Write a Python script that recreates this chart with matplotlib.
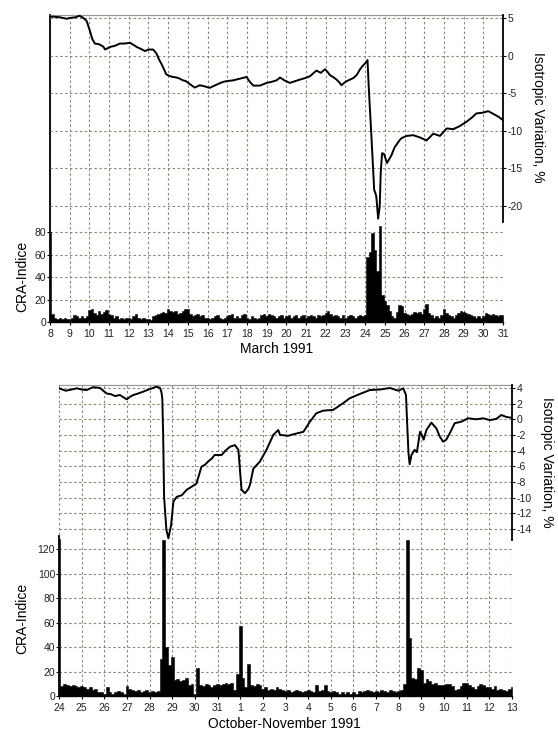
import numpy as np
import matplotlib
matplotlib.use('Agg')
import matplotlib.pyplot as plt

plt.rcParams['font.family'] = ['Liberation Sans', 'DejaVu Sans']
plt.rcParams['axes.unicode_minus'] = False

# ---------------- March 1991 ----------------
mar_day_labels = list(range(8, 32))
# CRA index, 3-hourly from 8 March 00h
mar_cra = [
    80, 7, 4, 3, 4, 3, 4, 3,        # 8
    3, 4, 6, 5, 4, 5, 4, 5,         # 9
    11, 12, 8, 6, 10, 7, 9, 11,     # 10
    7, 6, 4, 5, 3, 4, 3, 4,         # 11
    4, 3, 5, 7, 4, 3, 4, 3,         # 12
    3, 2, 5, 6, 7, 8, 9, 8,         # 13
    12, 10, 9, 10, 7, 8, 10, 12,    # 14
    12, 7, 5, 6, 7, 5, 6, 4,        # 15
    4, 3, 4, 5, 6, 4, 3, 4,         # 16
    5, 6, 7, 4, 5, 4, 6, 7,         # 17
    4, 3, 5, 4, 3, 4, 6, 7,         # 18
    5, 7, 6, 5, 4, 5, 6, 4,         # 19
    5, 6, 4, 5, 6, 4, 5, 6,         # 20
    4, 5, 6, 5, 4, 6, 5, 6,         # 21
    8, 10, 7, 5, 6, 5, 4, 6,        # 22
    4, 5, 6, 5, 4, 5, 6, 5,         # 23
    6, 58, 62, 79, 64, 45, 85, 24,  # 24
    19, 15, 10, 5, 4, 9, 15, 14,    # 25
    8, 7, 6, 7, 9, 8, 9, 7,         # 26
    12, 16, 8, 6, 4, 5, 4, 6,       # 27
    12, 8, 6, 5, 4, 6, 8, 10,       # 28
    9, 8, 7, 6, 5, 4, 5, 4,         # 29
    5, 8, 7, 6, 7, 6, 5, 6,         # 30
    6,                              # 31
]
mar_iso_day = [
    8.0, 8.5, 8.85, 9.0, 9.3, 9.5, 9.7, 9.86, 10.0, 10.15, 10.28, 10.5, 10.7, 10.8,
    11.05, 11.3, 11.55, 11.8, 12.06, 12.25, 12.4, 12.6, 12.82, 13.0, 13.24, 13.4,
    13.55, 13.65, 13.8, 13.9, 14.05, 14.24, 14.4, 14.58, 14.75, 14.9, 15.1, 15.35,
    15.6, 15.85, 16.1, 16.35, 16.6, 16.8, 16.97, 17.3, 17.6, 17.98, 18.15, 18.32,
    18.66, 19.0, 19.25, 19.5, 19.68, 19.9, 20.18, 20.45, 20.69, 20.95, 21.2, 21.35,
    21.53, 21.75, 21.96, 22.1, 22.21, 22.4, 22.55, 22.7, 22.8, 23.0, 23.23, 23.4,
    23.57, 23.75, 23.9, 24.05, 24.12, 24.2, 24.32, 24.46, 24.52, 24.57, 24.66,
    24.74, 24.79, 24.86, 24.96, 25.11, 25.33, 25.5, 25.77, 25.85, 26.1, 26.44,
    26.78, 27.12, 27.46, 27.8, 28.14, 28.47, 28.8, 29.15, 29.4, 29.65, 29.99,
    30.25, 30.6, 30.8, 31.0,
]
mar_iso = [
    5.2, 5.1, 4.9, 5.0, 5.1, 5.3, 5.0, 4.6, 3.5, 2.2, 1.6, 1.5, 1.2, 0.8,
    1.15, 1.3, 1.6, 1.6, 1.7, 1.4, 1.15, 0.9, 0.6, 0.8, 0.8, 0.3,
    -0.6, -1.06, -1.9, -2.5, -2.7, -2.85, -2.9, -3.06, -3.3, -3.4, -3.8, -4.26,
    -3.95, -4.1, -4.3, -4.0, -3.7, -3.5, -3.4, -3.3, -3.1, -2.85, -3.5, -4.0,
    -4.0, -3.64, -3.5, -3.3, -2.93, -3.3, -3.64, -3.4, -3.2, -3.0, -2.75, -2.4,
    -2.0, -2.3, -1.82, -2.2, -2.6, -2.9, -3.2, -3.6, -3.95, -3.5, -3.2, -3.0,
    -2.6, -1.8, -1.3, -0.9, -0.6, -5.05, -10.8, -17.9, -18.3, -18.8, -21.7,
    -20.1, -15.7, -13.0, -13.1, -14.3, -13.3, -12.2, -11.2, -11.0, -10.7, -10.6,
    -10.9, -11.3, -10.4, -10.7, -9.7, -9.8, -9.4, -8.8, -8.3, -7.7, -7.6,
    -7.4, -7.9, -8.2, -8.6,
]

# ---------------- October-November 1991 ----------------
on_day_labels = [24, 25, 26, 27, 28, 29, 30, 31, 1, 2, 3, 4, 5, 6, 7, 8, 9, 10, 11, 12, 13]
# CRA index, 3-hourly from 24 October 00h
on_cra = [
    128, 8, 10, 9, 8, 9, 8, 7,      # Oct 24
    8, 7, 6, 7, 5, 6, 3, 3,         # 25
    2, 7, 3, 2, 3, 4, 3, 2,         # 26
    8, 6, 5, 4, 5, 3, 4, 5,         # 27
    3, 4, 3, 4, 30, 127, 40, 25,    # 28
    32, 13, 14, 12, 13, 15, 9, 10,  # 29
    2, 23, 9, 8, 10, 9, 7, 9,       # 30
    10, 9, 10, 11, 10, 11, 5, 18,   # 31
    57, 15, 7, 26, 9, 8, 10, 9,     # Nov 1
    6, 7, 5, 6, 5, 7, 6, 5,         # 2
    4, 5, 3, 4, 5, 4, 3, 4,         # 3
    5, 4, 3, 9, 4, 5, 9, 4,         # 4
    3, 4, 3, 2, 3, 2, 3, 2,         # 5
    3, 2, 4, 3, 4, 5, 4, 3,         # 6
    4, 3, 5, 4, 3, 5, 4, 3,         # 7
    4, 5, 10, 127, 47, 15, 14, 23,  # 8
    21, 11, 14, 12, 10, 11, 9, 9,   # 9
    9, 10, 10, 8, 5, 6, 8, 11,      # 10
    11, 9, 7, 6, 8, 10, 9, 7,       # 11
    7, 6, 8, 5, 6, 5, 4, 6,         # 12
    7,                              # 13
]
# time in days since 24 October 00h
on_iso_t = [
    0.0, 0.3, 0.55, 0.78, 1.0, 1.22, 1.51, 1.81, 2.1, 2.3, 2.47, 2.69, 2.85, 2.99,
    3.15, 3.28, 3.5, 3.72, 3.95, 4.15, 4.31, 4.46, 4.52, 4.56, 4.6, 4.64, 4.74,
    4.83, 4.95, 5.05, 5.2, 5.42, 5.64, 5.86, 6.07, 6.29, 6.45, 6.58, 6.75, 6.87,
    7.18, 7.35, 7.55, 7.77, 7.92, 7.99, 8.06, 8.21, 8.36, 8.43, 8.58, 8.87, 9.16,
    9.46, 9.68, 9.76, 10.12, 10.5, 10.79, 11.08, 11.36, 11.66, 12.1, 12.54, 12.83,
    13.28, 13.73, 14.17, 14.61, 14.98, 15.2, 15.32, 15.37, 15.43, 15.48, 15.56,
    15.7, 15.8, 15.94, 16.02, 16.1, 16.22, 16.44, 16.66, 16.81, 16.96, 17.1,
    17.25, 17.47, 17.77, 18.06, 18.43, 18.72, 19.02, 19.31, 19.53, 19.75, 19.97,
]
on_iso = [
    3.96, 3.65, 3.8, 3.96, 3.8, 3.74, 4.1, 4.0, 3.3, 3.2, 2.97, 3.1, 2.8, 2.55,
    2.9, 3.1, 3.3, 3.53, 3.8, 4.0, 4.17, 4.0, 3.5, 2.7, -2.2, -9.9, -14.1,
    -15.2, -13.5, -10.5, -9.9, -9.7, -9.0, -8.6, -8.2, -6.05, -5.8, -5.4, -5.0, -4.56,
    -4.56, -4.0, -3.5, -3.3, -3.9, -6.5, -9.0, -9.45, -8.9, -8.4, -6.3, -5.4, -3.9,
    -2.0, -1.37, -2.0, -2.1, -1.8, -1.6, -0.3, 0.77, 1.1, 1.2, 2.04, 2.68,
    3.23, 3.74, 3.8, 4.0, 3.65, 3.96, 3.1, -0.5, -4.3, -5.75, -4.56,
    -3.9, -4.2, -1.6, -2.0, -2.6, -1.37, -0.43, -1.15, -2.2, -2.86, -2.6,
    -1.8, -0.5, -0.3, 0.13, 0.0, 0.13, -0.1, 0.05, 0.55, 0.3, 0.2,
]

grid_col = '#8a8a72'
dash = (0, (2.2, 2.2))
fig = plt.figure(figsize=(5.58, 7.31), dpi=100)


def panel(rect, x0, ndays, cra, iso_t, iso_v, cra_lim, iso_lim, cra_ticks, iso_ticks,
          day_labels, left_top, right_bottom):
    ax = fig.add_axes(rect)
    t = x0 + np.arange(len(cra)) * 0.125
    ax.fill_between(t, 0, cra, step='mid', color='black', linewidth=0.4, zorder=2)
    ax.set_xlim(x0, x0 + ndays)
    ax.set_ylim(*cra_lim)
    ax.set_yticks(cra_ticks)
    ax.set_xticks(np.arange(x0, x0 + ndays + 1))
    ax.set_xticklabels([str(d) for d in day_labels])
    ax.set_axisbelow(True)
    ax.grid(True, color=grid_col, linestyle=dash, linewidth=0.8)

    ax2 = ax.twinx()
    ax2.plot(iso_t, iso_v, color='black', linewidth=1.4, zorder=3)
    ax2.set_ylim(*iso_lim)
    ax2.set_yticks(iso_ticks)
    ax2.grid(True, axis='y', color=grid_col, linestyle=dash, linewidth=0.8)

    ax.spines['left'].set_bounds(0, left_top)
    ax.spines['left'].set_linewidth(1.3)
    ax.spines['right'].set_visible(False)
    ax.spines['top'].set_color('#999999')
    ax.spines['top'].set_linewidth(0.9)
    ax.spines['bottom'].set_linewidth(1.0)
    for s in ['left', 'top', 'bottom']:
        ax2.spines[s].set_visible(False)
    ax2.spines['right'].set_bounds(right_bottom, iso_lim[1])
    ax2.spines['right'].set_linewidth(1.3)

    ax.tick_params(axis='y', direction='out', length=2.2, width=0.8, pad=0.6,
                   labelsize=7.5, labelcolor='#222222')
    ax.tick_params(axis='x', direction='out', length=2.0, width=0.8, pad=3,
                   labelsize=7.5, labelcolor='#222222')
    ax2.tick_params(axis='y', direction='out', length=2.2, width=0.8, pad=1,
                    labelsize=7.5, labelcolor='#222222')
    return ax, ax2


W, H = 558.0, 731.0
panel((50 / W, 1 - 322 / H, 453 / W, 307 / H), 8, 23, mar_cra, mar_iso_day, mar_iso,
      (0, 272.9), (-35.47, 5.4), [0, 20, 40, 60, 80], [5, 0, -5, -10, -15, -20],
      mar_day_labels, 272.9, -22.2)
panel((59 / W, 1 - 696 / H, 453 / W, 311 / H), 0, 20, on_cra, on_iso_t, on_iso,
      (0, 253.9), (-35.34, 4.38), [0, 20, 40, 60, 80, 100, 120],
      [4, 2, 0, -2, -4, -6, -8, -10, -12, -14], on_day_labels, 131, -15.4)

lab = dict(fontsize=10, color='black', ha='center', va='center')
fig.text(22 / W, 1 - 276 / H, 'CRA-Indice', rotation=90, **lab)
fig.text(538 / W, 1 - 117 / H, 'Isotropic Variation, %', rotation=270, **lab)
fig.text(277 / W, 1 - 349 / H, 'March 1991', **lab)
fig.text(22 / W, 1 - 618 / H, 'CRA-Indice', rotation=90, **lab)
fig.text(547 / W, 1 - 462 / H, 'Isotropic Variation, %', rotation=270, **lab)
fig.text(284 / W, 1 - 724 / H, 'October-November 1991', **lab)

fig.savefig('out.png', dpi=100)
